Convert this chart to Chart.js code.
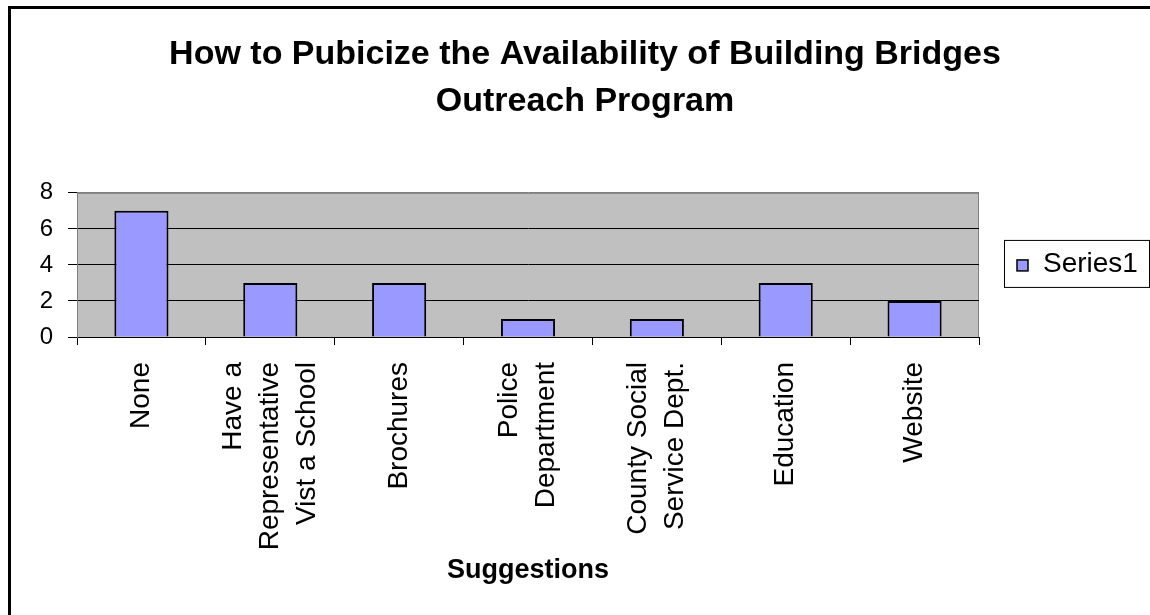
<!DOCTYPE html>
<html>
<head>
<meta charset="utf-8">
<script src="https://cdn.jsdelivr.net/npm/chart.js@4"></script>
<style>
  body { margin: 0; background: #fff; }
</style>
</head>
<body>
<canvas id="pubChart" width="1150" height="615"></canvas>
<script>
// data
const categories = [
    ['None'],
    ['Have a', 'Representative', 'Vist a School'],
    ['Brochures'],
    ['Police', 'Department'],
    ['County Social', 'Service Dept.'],
    ['Education'],
    ['Website']
];
const series1 = [7, 3, 3, 1, 1, 3, 2];
const seriesName = 'Series1';
const yTicks = [0, 2, 4, 6, 8];
const chartTitle = ['How to Pubicize the Availability of Building Bridges', 'Outreach Program'];
const xTitle = 'Suggestions';

const FONT = "'Liberation Sans', Arial, sans-serif";

// gray plot area + outer frame
const backdrop = {
    id: 'backdrop',
    beforeDraw(chart) {
        const { ctx, chartArea: a } = chart;
        ctx.save();
        ctx.fillStyle = '#c0c0c0';
        ctx.fillRect(a.left, a.top, a.right - a.left, a.bottom - a.top);
        ctx.strokeStyle = '#808080';
        ctx.lineWidth = 1;
        ctx.strokeRect(a.left + 0.5, a.top + 0.5, a.right - a.left - 1, a.bottom - a.top);
        // outer chart frame (runs off the picture on right and bottom)
        ctx.strokeStyle = '#000';
        ctx.lineWidth = 3;
        ctx.beginPath();
        ctx.moveTo(9.5, 620);
        ctx.lineTo(9.5, 7.5);
        ctx.lineTo(1160, 7.5);
        ctx.stroke();
        ctx.restore();
    }
};

// rotated, centred multi-line category labels
const xLabels = {
    id: 'xLabels',
    afterDraw(chart) {
        const { ctx, chartArea: a } = chart;
        const xs = chart.scales.x;
        const lh = 37;
        ctx.save();
        ctx.font = '28px ' + FONT;
        ctx.fillStyle = '#000';
        ctx.textAlign = 'right';
        ctx.textBaseline = 'middle';
        categories.forEach((lines, i) => {
            const cx = xs.getPixelForValue(i);
            lines.forEach((txt, j) => {
                const x = cx + (j - (lines.length - 1) / 2) * lh;
                ctx.save();
                ctx.translate(x, a.bottom + 25);
                ctx.rotate(-Math.PI / 2);
                ctx.fillText(txt, 0, 0);
                ctx.restore();
            });
        });
        ctx.restore();
    }
};

// Excel style boxed legend
const boxLegend = {
    id: 'boxLegend',
    afterDraw(chart) {
        const { ctx, chartArea: a } = chart;
        const ds = chart.data.datasets[0];
        const left = a.right + 25;
        const mid = (a.top + a.bottom) / 2 - 1;
        ctx.save();
        ctx.strokeStyle = '#000';
        ctx.lineWidth = 1;
        ctx.strokeRect(left + 0.5, mid - 23.5, 1149 - left, 47);
        ctx.fillStyle = ds.backgroundColor;
        ctx.fillRect(left + 13, mid - 4, 11, 11);
        ctx.lineWidth = 1.5;
        ctx.strokeRect(left + 13, mid - 4, 11, 11);
        ctx.fillStyle = '#000';
        ctx.font = '28px ' + FONT;
        ctx.textAlign = 'left';
        ctx.textBaseline = 'middle';
        ctx.fillText(ds.label, left + 39, mid);
        ctx.restore();
    }
};

const ctx = document.getElementById('pubChart').getContext('2d');

const pubChart = new Chart(ctx, {
    type: 'bar',
    data: {
        labels: categories,
        datasets: [{
            label: seriesName,
            data: series1,
            backgroundColor: '#9999ff',
            borderColor: '#000',
            borderWidth: 2,
            categoryPercentage: 1,
            barPercentage: 0.42
        }]
    },
    options: {
        responsive: false,
        animation: false,
        layout: { padding: { left: 20, right: 0, top: 0, bottom: 28 } },
        scales: {
            x: {
                offset: true,
                grid: {
                    offset: true,
                    drawOnChartArea: false,
                    drawTicks: true,
                    tickLength: 8,
                    color: '#000'
                },
                border: { display: true, color: '#000', width: 1 },
                ticks: { display: false },
                title: {
                    display: true,
                    text: xTitle,
                    color: '#000',
                    font: { family: FONT, size: 27, weight: 'bold', lineHeight: 1.2 },
                    padding: 0
                },
                afterFit(scale) { scale.height = 250; }
            },
            y: {
                min: 0,
                max: 8,
                afterBuildTicks(scale) { scale.ticks = yTicks.map(v => ({ value: v })); },
                grid: {
                    color: c => (c.tick && c.tick.value === 8) ? '#808080' : '#000',
                    tickColor: '#000',
                    tickLength: 9,
                    lineWidth: 1
                },
                border: { display: true, color: '#808080' },
                ticks: {
                    color: '#000',
                    padding: 15,
                    font: { family: FONT, size: 24 }
                },
                afterFit(scale) { scale.width = 57; }
            },
            y2: {
                type: 'linear',
                position: 'right',
                display: true,
                grid: { display: false },
                border: { display: false },
                ticks: { display: false },
                afterFit(scale) { scale.width = 171; }
            }
        },
        plugins: {
            legend: { display: false },
            tooltip: { enabled: false },
            title: {
                display: true,
                text: chartTitle,
                color: '#000',
                font: { family: FONT, size: 34, weight: 'bold', lineHeight: 1.38 },
                padding: { top: 31, bottom: 68 }
            }
        }
    },
    plugins: [backdrop, xLabels, boxLegend]
});
</script>
</body>
</html>
